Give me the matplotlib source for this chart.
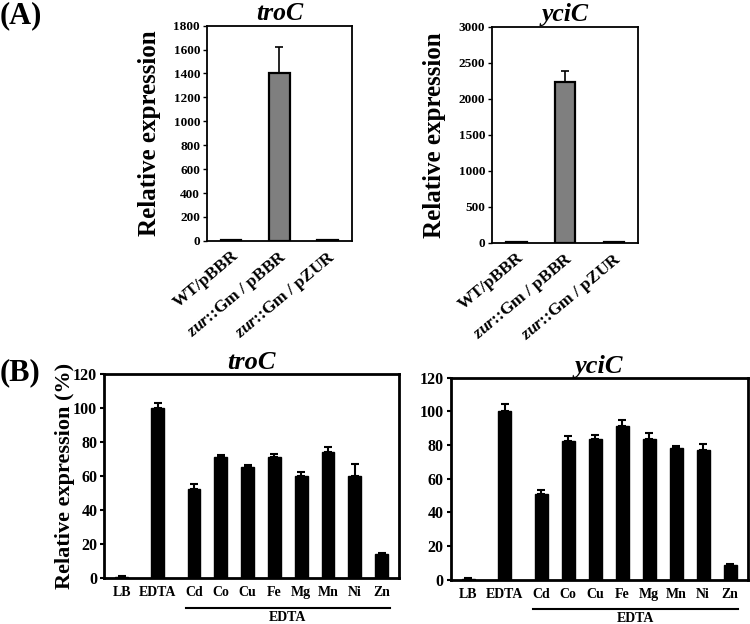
import matplotlib
matplotlib.use("Agg")
import matplotlib.pyplot as plt
import matplotlib.transforms as mtransforms
import numpy as np

plt.rcParams['font.family'] = ['Liberation Serif', 'DejaVu Serif']
plt.rcParams['font.weight'] = 'bold'
plt.rcParams['mathtext.fontset'] = 'custom'
plt.rcParams['mathtext.it'] = 'Liberation Serif:italic:bold'
plt.rcParams['mathtext.rm'] = 'Liberation Serif:bold'
plt.rcParams['mathtext.bf'] = 'Liberation Serif:bold'

# ---- Data ----
a_categories = ["WT/pBBR", r"$\mathit{zur}$::Gm / pBBR", r"$\mathit{zur}$::Gm / pZUR"]
a_troC = [10, 1405, 10]
a_troC_err = [0, 220, 0]
a_yciC = [12, 2240, 15]
a_yciC_err = [0, 150, 0]

b_categories = ["LB", "EDTA", "Cd", "Co", "Cu", "Fe", "Mg", "Mn", "Ni", "Zn"]
b_troC = [0.5, 100, 52, 71, 65, 71, 60, 74, 60, 14]
b_troC_err = [0.3, 3, 3, 1.5, 1.5, 2, 2, 3, 7, 0.5]
b_yciC = [0.5, 100, 51, 82.5, 83.5, 91, 83.5, 78, 77, 8.5]
b_yciC_err = [0.3, 4, 2.5, 2.5, 2.5, 3.5, 3.5, 1.5, 3.5, 0.7]

fig = plt.figure(figsize=(7.5, 6.24), dpi=100)

def panel_a(rect, vals, errs, ymax, step, title):
    ax = fig.add_axes(rect)
    x = np.arange(len(vals))
    ax.bar(x, vals, width=0.42, color='#7f7f7f', edgecolor='black', linewidth=1.6,
           yerr=[np.zeros(len(errs)), errs], capsize=3,
           error_kw=dict(ecolor='black', elinewidth=1.2, capthick=1.2))
    ax.set_xlim(-0.5, len(vals) - 0.5)
    ax.set_ylim(0, ymax)
    ax.set_yticks(np.arange(0, ymax + 1, step))
    ax.set_xticks(x)
    ax.set_xticklabels(a_categories, rotation=40, ha='right', rotation_mode='anchor',
                       fontsize=12.5, fontweight='bold')
    off = mtransforms.ScaledTranslation(7 / 72, 0, fig.dpi_scale_trans)
    for lab in ax.get_xticklabels():
        lab.set_transform(lab.get_transform() + off)
    ax.tick_params(axis='x', length=0, pad=5)
    ax.tick_params(axis='y', direction='out', length=3, width=1, labelsize=9.5, pad=2)
    for s in ax.spines.values():
        s.set_linewidth(1.3)
    ax.set_ylabel("Relative expression", fontsize=18, fontweight='bold', labelpad=9)
    ax.set_title(title, fontsize=18.5, fontweight='bold', style='italic', pad=4)
    return ax

panel_a([0.276, 0.614, 0.193, 0.345], a_troC, a_troC_err, 1800, 200, "troC")
panel_a([0.656, 0.611, 0.195, 0.346], a_yciC, a_yciC_err, 3000, 500, "yciC")

def panel_b(rect, vals, errs, title, ylabel=None):
    ax = fig.add_axes(rect)
    pos = np.array([0, 1.35] + [2.7 + i for i in range(len(vals) - 2)])
    ax.bar(pos, vals, width=0.48, color='black', edgecolor='black',
           yerr=[np.zeros(len(errs)), errs], capsize=3,
           error_kw=dict(ecolor='black', elinewidth=1.5, capthick=1.5))
    ax.set_xlim(-0.65, pos[-1] + 0.65)
    ax.set_ylim(0, 120)
    ax.set_yticks(np.arange(0, 121, 20))
    ax.set_xticks(pos)
    ax.set_xticklabels(b_categories, fontsize=10, fontweight='bold')
    ax.tick_params(axis='x', length=0, pad=6)
    ax.tick_params(axis='y', direction='out', length=3, width=1.5, labelsize=11.5, pad=2)
    for s in ax.spines.values():
        s.set_linewidth(2)
    if ylabel:
        ax.set_ylabel(ylabel, fontsize=16, fontweight='bold', labelpad=-1)
    ax.set_title(title, fontsize=19, fontweight='bold', style='italic', pad=3)
    trans = mtransforms.blended_transform_factory(ax.transData, ax.transAxes)
    ax.plot([pos[2] - 0.3, pos[-1] + 0.3], [-0.147, -0.147], color='black', lw=1.5,
            transform=trans, clip_on=False)
    ax.text((pos[2] + pos[-1]) / 2, -0.193, "EDTA", transform=trans, ha='center',
            va='center', fontsize=10, fontweight='bold')
    return ax

panel_b([0.139, 0.074, 0.393, 0.327], b_troC, b_troC_err, "troC", "Relative expression (%)")
panel_b([0.601, 0.071, 0.396, 0.324], b_yciC, b_yciC_err, "yciC")

fig.text(0.0, 0.975, "(A)", fontsize=22, fontweight='bold', va='center', ha='left')
fig.text(0.0, 0.402, "(B)", fontsize=22, fontweight='bold', va='center', ha='left')

fig.savefig("out.png", dpi=100)
